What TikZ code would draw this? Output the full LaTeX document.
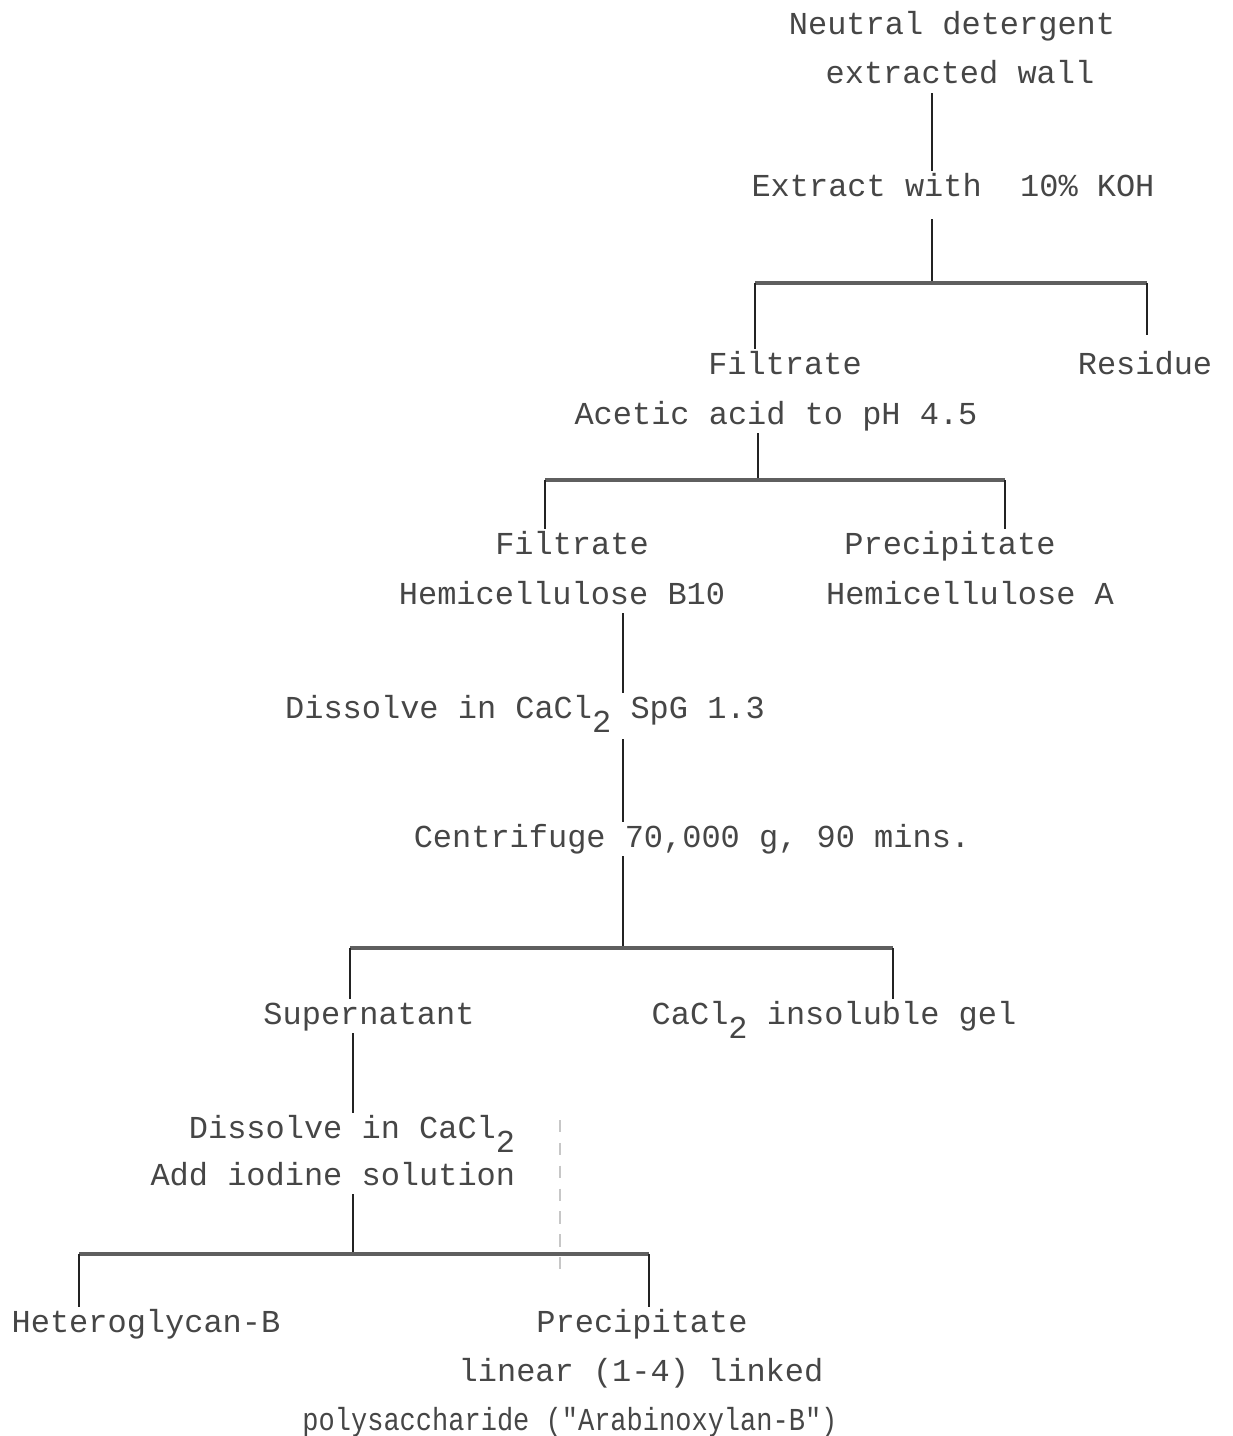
\documentclass[tikz,border=0pt]{standalone}
\usepackage{fontspec}
\setmonofont{Liberation Mono}
\usepackage{graphicx}
\usepackage{tikz}
\usepackage{xcolor}
\definecolor{cInk}{RGB}{70,70,70}
\definecolor{cLine}{RGB}{35,35,35}
\definecolor{cBar}{RGB}{95,95,95}
\newcommand{\subtwo}{\raisebox{-8pt}{2}}
\tikzset{
	txt/.style={font=\ttfamily\fontsize{18.2}{22}\selectfont, text=cInk,
		anchor=base, inner sep=2pt, text height=12pt, text depth=3pt},
	vline/.style={draw=cLine, line width=1.6pt},
	hbar/.style={draw=cBar, line width=2.2pt},
	dashline/.style={draw=black!22, line width=0.8pt, dash pattern=on 7pt off 6pt},
}

\begin{document}
\begin{tikzpicture}[x=0.02cm, y=-0.02cm]
			\useasboundingbox[fill=white] (0,0) rectangle (1232,1436);
			% steps and fractions
			\node[txt] (nd) at (952,35) {Neutral detergent};
			\node[txt] (wall) at (960,84) {extracted wall};
			\node[txt] (ext) at (953,196) {Extract with~~10\% KOH};
			\node[txt] (filt1) at (785,374) {Filtrate};
			\node[txt] (res) at (1145,374) {Residue};
			\node[txt] (acet) at (776,424) {Acetic acid to pH 4.5};
			\node[txt] (filt2) at (572,554) {Filtrate};
			\node[txt] (prec1) at (950,554) {Precipitate};
			\node[txt] (hemb) at (562,604) {Hemicellulose B10};
			\node[txt] (hema) at (970,604) {Hemicellulose A};
			\node[txt] (dis1) at (525,718) {Dissolve in CaCl\subtwo{} SpG 1.3};
			\node[txt] (cen) at (692,847) {Centrifuge 70,000 g, 90 mins.};
			\node[txt] (sup) at (369,1024) {Supernatant};
			\node[txt] (gel) at (834,1024) {CaCl\subtwo{} insoluble gel};
			\node[txt, anchor=base east] (dis2) at (519,1138) {Dissolve in CaCl\subtwo};
			\node[txt, anchor=base east] (iod) at (519,1185) {Add iodine solution};
			\node[txt] (het) at (146,1332) {Heteroglycan-B};
			\node[txt] (prec2) at (642,1332) {Precipitate};
			\node[txt] (lin) at (641,1381) {linear (1-4) linked};
			\node[txt] (poly) at (570,1430) {\scalebox{0.845}[1]{polysaccharide ("Arabinoxylan-B")}};
			% junctions
			\coordinate (j1) at (932,283);
			\coordinate (j1l) at (755,283);
			\coordinate (j1r) at (1147,283);
			\coordinate (j2) at (758,480);
			\coordinate (j2l) at (545,480);
			\coordinate (j2r) at (1005,480);
			\coordinate (j3) at (623,948);
			\coordinate (j3l) at (350,948);
			\coordinate (j3r) at (893,948);
			\coordinate (j4) at (353,1254);
			\coordinate (j4l) at (79,1254);
			\coordinate (j4r) at (649,1254);
			\coordinate (d1) at (560,1120);
			\coordinate (d2) at (560,1270);
			% KOH extraction
			\draw[vline] (wall.south -| j1) -- (ext.north -| j1);
			\draw[vline, shorten <=8pt] (ext.south -| j1) -- (j1);
			\draw[hbar] (j1l) -- (j1r);
			\draw[vline] (j1l) -- (j1l |- filt1.north);
			\draw[vline, shorten >=8pt] (j1r) -- (j1r |- res.north);
			% acetic acid
			\draw[vline] (acet.south -| j2) -- (j2);
			\draw[hbar] (j2l) -- (j2r);
			\draw[vline] (j2l) -- (j2l |- filt2.north);
			\draw[vline] (j2r) -- (j2r |- prec1.north);
			% CaCl2 and centrifuge
			\draw[vline] (hemb.south -| j3) -- (dis1.north -| j3);
			\draw[vline, shorten <=7pt] (dis1.south -| j3) -- (cen.north -| j3);
			\draw[vline] (cen.south -| j3) -- (j3);
			\draw[hbar] (j3l) -- (j3r);
			\draw[vline] (j3l) -- (j3l |- sup.north);
			\draw[vline] (j3r) -- (j3r |- gel.north);
			% iodine
			\draw[vline] (sup.south -| j4) -- (dis2.north -| j4);
			\draw[vline] (iod.south -| j4) -- (j4);
			\draw[hbar] (j4l) -- (j4r);
			\draw[vline] (j4l) -- (j4l |- het.north);
			\draw[vline] (j4r) -- (j4r |- prec2.north);
			\draw[dashline] (d1) -- (d2);
		\end{tikzpicture}
\end{document}
